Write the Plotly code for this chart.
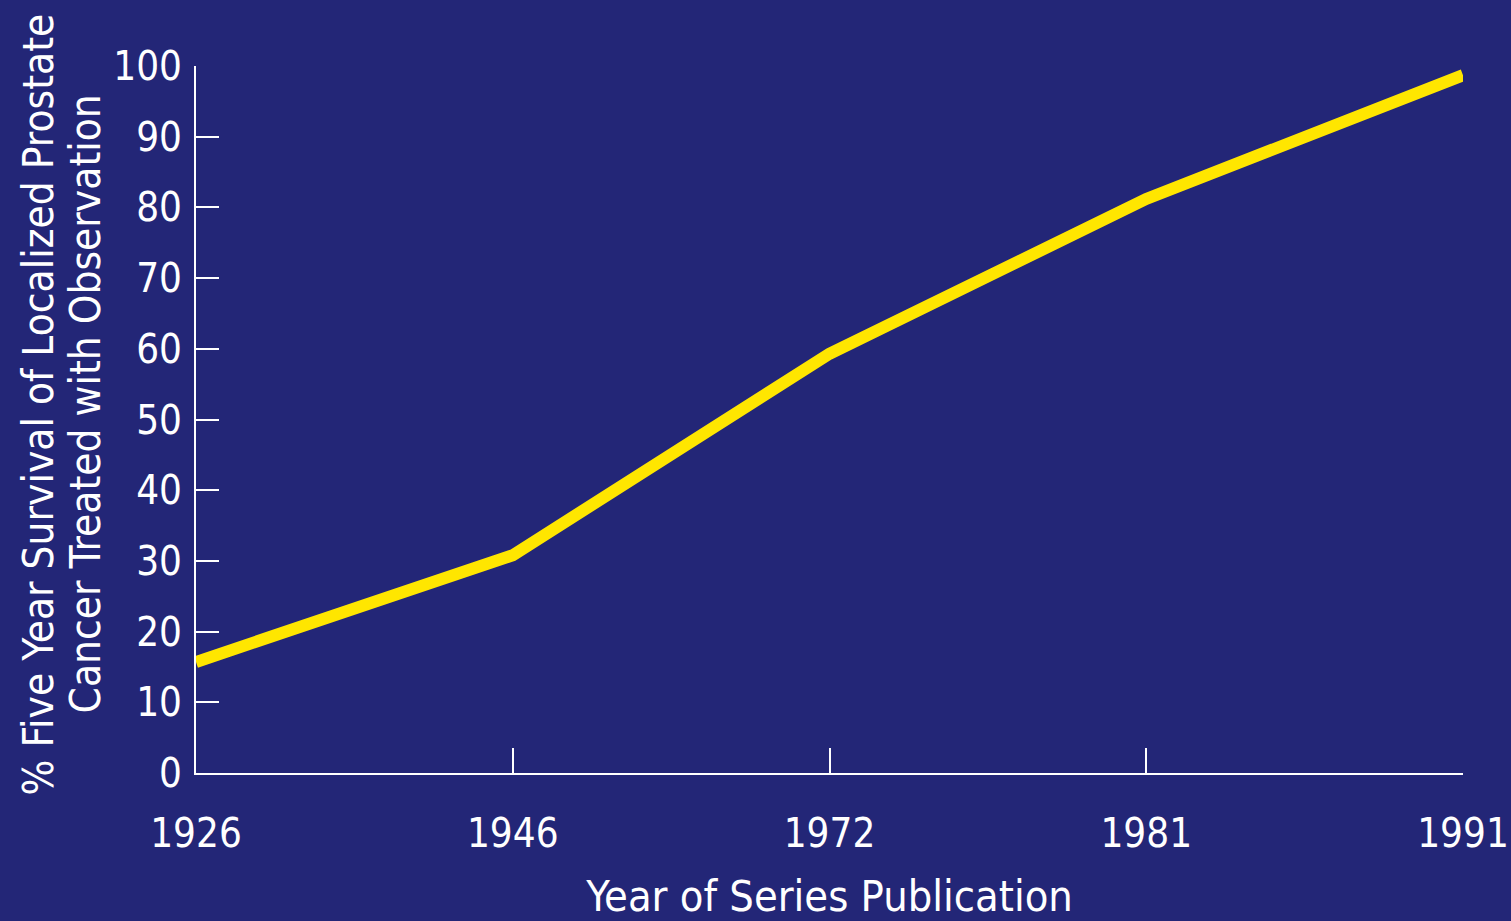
import plotly.graph_objects as go

years = ["1926", "1946", "1972", "1981", "1991"]
survival = [15.7, 30.8, 59.3, 81.2, 98.7]
y_ticks = [0, 10, 20, 30, 40, 50, 60, 70, 80, 90, 100]
y_title_lines = ["% Five Year Survival of Localized Prostate",
                 "Cancer Treated with Observation"]
x_title = "Year of Series Publication"

BG = "#232677"
FONT = "DejaVu Sans Condensed, Liberation Sans Narrow, sans-serif"

fig = go.Figure()
fig.add_trace(go.Scatter(
    x=years, y=survival, mode="lines",
    line=dict(color="#FFE600", width=12),
    hoverinfo="skip", showlegend=False,
))

fig.update_layout(
    width=1511, height=921,
    paper_bgcolor=BG, plot_bgcolor=BG,
    margin=dict(l=196, r=48, t=66, b=148),
    font=dict(family=FONT, color="white", size=40),
    xaxis=dict(
        type="category", range=[0, 4], automargin=False,
        showgrid=False, zeroline=False,
        showline=True, linecolor="white", linewidth=2,
        ticks="inside", ticklen=25, tickwidth=2, tickcolor="white",
        tickfont=dict(size=40), ticklabelstandoff=24,
        title=dict(text=x_title, font=dict(size=43), standoff=30),
    ),
    yaxis=dict(
        range=[0, 100], tickvals=y_ticks, automargin=False,
        showgrid=False, zeroline=False,
        showline=True, linecolor="white", linewidth=2,
        ticks="inside", ticklen=23, tickwidth=2, tickcolor="white",
        tickfont=dict(size=40), ticklabelstandoff=4,
    ),
)

for text, shift in zip(y_title_lines, [-158, -111]):
    fig.add_annotation(
        text=text, textangle=-90, showarrow=False,
        xref="paper", yref="paper", x=0, y=0.5,
        xanchor="center", yanchor="middle",
        xshift=shift, yshift=15,
        font=dict(size=42, color="white", family=FONT),
    )

fig.write_html(
    "out.html",
    config={"displayModeBar": False},
    post_script="document.body.style.margin='0';document.body.style.overflow='hidden';",
)
